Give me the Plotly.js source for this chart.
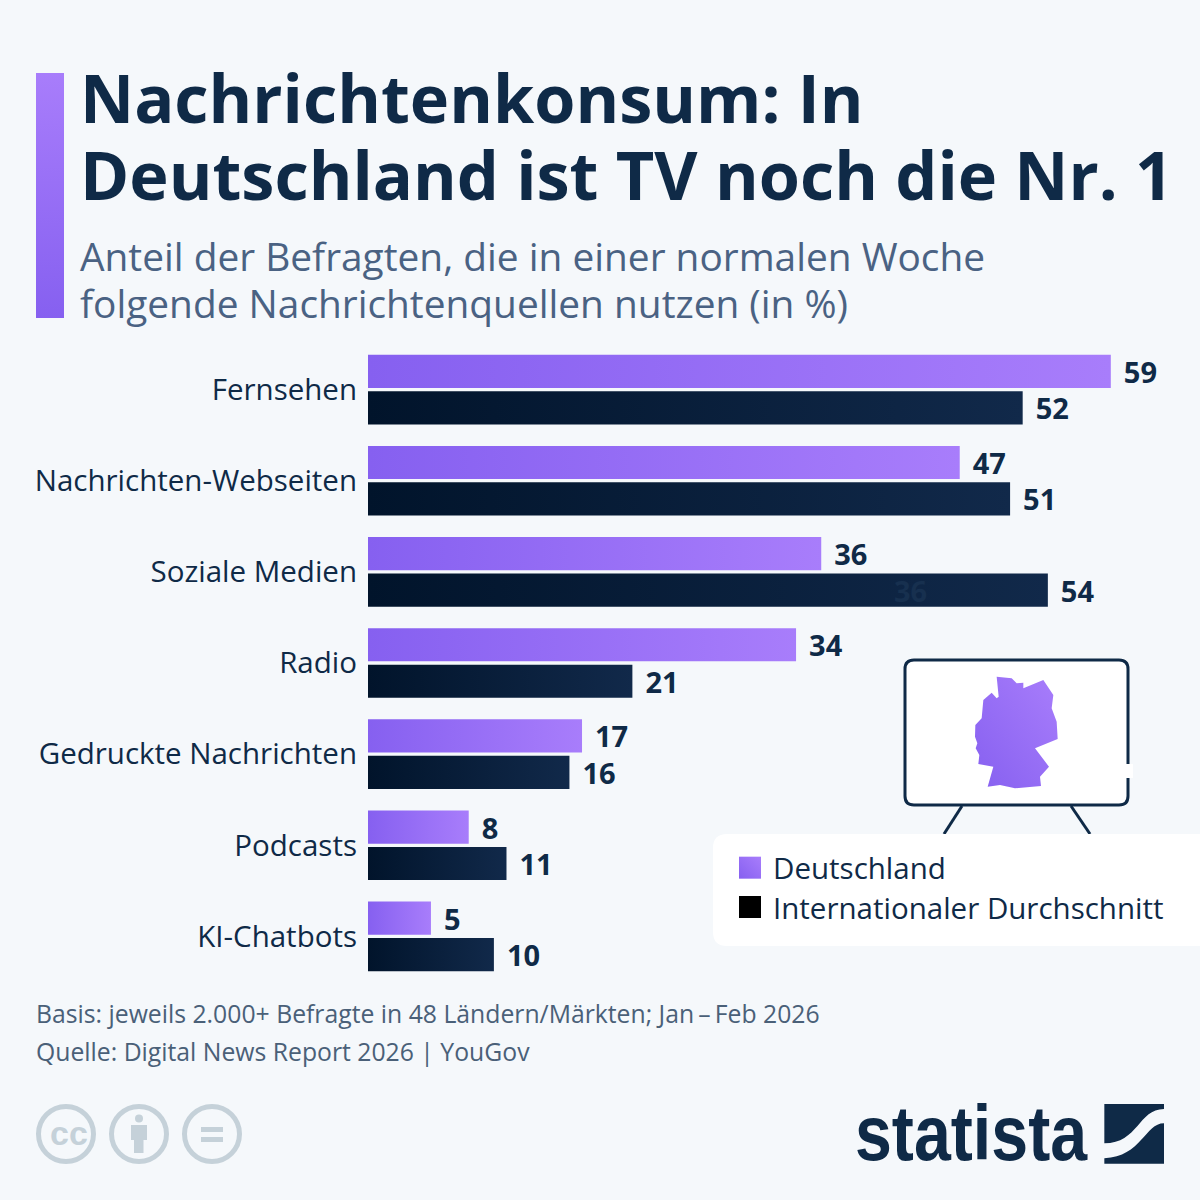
<!DOCTYPE html>
<html><head><meta charset="utf-8">
<script src="https://cdn.plot.ly/plotly-3.0.1.min.js"></script>
<style>html,body{margin:0;padding:0;background:#f5f8fb}</style></head>
<body><div id="chart" style="width:1200px;height:1200px"></div>
<script>
const categories = ["Fernsehen","Nachrichten-Webseiten","Soziale Medien","Radio","Gedruckte Nachrichten","Podcasts","KI-Chatbots"];
const germany = [59,47,36,34,17,8,5];
const international = [52,51,54,21,16,11,10];
const seriesNames = ["Deutschland","Internationaler Durchschnitt"];
const titleText = "Nachrichtenkonsum: In<br>Deutschland ist TV noch die Nr. 1";
const subtitleLine1 = "Anteil der Befragten, die in einer normalen Woche";
const subtitleLine2 = "folgende Nachrichtenquellen nutzen (in %)";
const basisText = "Basis: jeweils 2.000+ Befragte in 48 Ländern/Märkten; Jan\u2009–\u2009Feb 2026";
const sourceText = "Quelle: Digital News Report 2026 | YouGov";

const W = 1200, H = 1200, F = "'Open Sans', 'Noto Sans', sans-serif";
const NAVY = "#0f2a47", PURPLE = "#9a72f7", ICON = "#c5d1d9";
const L = 368, T = 344, PW = 832, PH = 638;
const px = x => (x - L) / PW, py = y => 1 - (y - T) / PH;
function pathShape(pts, fill) {
  const d = "M" + pts.map(p => px(p[0]) + "," + py(p[1])).join("L") + "Z";
  return {type:"path", xref:"paper", yref:"paper", path:d, fillcolor:fill, line:{width:0}};
}
function svgPath(cmd, fill) {
  return {type:"path", xref:"paper", yref:"paper", path:cmd, fillcolor:fill, line:{width:0}};
}
const rect = (x0,y0,x1,y1,fill,line) => ({type:"rect",xref:"paper",yref:"paper",x0:px(x0),x1:px(x1),y0:py(y0),y1:py(y1),fillcolor:fill,line:line||{width:0}});
const circ = (cx,cy,r,fill,line) => ({type:"circle",xref:"paper",yref:"paper",x0:px(cx-r),x1:px(cx+r),y0:py(cy-r),y1:py(cy+r),fillcolor:fill,line:line||{width:0}});
const seg = (x0,y0,x1,y1,c,w) => ({type:"line",xref:"paper",yref:"paper",x0:px(x0),x1:px(x1),y0:py(y0),y1:py(y1),line:{color:c,width:w}});
function rrect(x0,y0,x1,y1,r,fill,line) {
  const P=(x,y)=>px(x)+" "+py(y);
  const d = "M"+P(x0+r,y0)+" L"+P(x1-r,y0)+" Q"+P(x1,y0)+" "+P(x1,y0+r)+" L"+P(x1,y1-r)+" Q"+P(x1,y1)+" "+P(x1-r,y1)+
    " L"+P(x0+r,y1)+" Q"+P(x0,y1)+" "+P(x0,y1-r)+" L"+P(x0,y0+r)+" Q"+P(x0,y0)+" "+P(x0+r,y0)+" Z";
  return {type:"path",xref:"paper",yref:"paper",path:d,fillcolor:fill,line:line||{width:0}};
}
const outline = [[890,110],[935,115],[950,130],[970,128],[970,145],[1030,120],[1060,165],[1055,205],[1070,245],[1073,297],[1005,325],[1047,380],[1020,410],[1023,438],[945,445],[900,435],[863,440],[880,380],[835,372],[838,345],[827,325],[832,310],[825,290],[826,255],[845,235],[850,180],[875,158],[890,175],[896,170]]
  .map(p => [700+p[0]/3, 640+p[1]/3]);
const P = (x,y) => px(x)+" "+py(y);
const lg = (x,y) => P(840+x/3, 1090+y/3);
const shapes = [
  rect(36,73,64,318,"#9a72f8"),
  seg(962,806,944,834,NAVY,3), seg(1071,806,1090,834,NAVY,3),
  rrect(905,660,1128,805,9,"#ffffff",{color:NAVY,width:3}),
  rect(1124,764,1133,778,"#ffffff"),
  pathShape(outline,"#9a72f9"),
  rrect(713,834,1240,946,14,"#ffffff"),
  circ(66,1134,27.5,"rgba(0,0,0,0)",{color:ICON,width:5}),
  circ(139,1134,27.5,"rgba(0,0,0,0)",{color:ICON,width:5}),
  circ(212,1134,27.5,"rgba(0,0,0,0)",{color:ICON,width:5}),
  circ(139,1118.5,4,ICON),
  rect(131,1125,147,1140,ICON), rect(134,1140,143.5,1153,ICON),
  rect(201,1127,223,1132,ICON), rect(201,1137,223,1142,ICON),
  svgPath("M"+lg(793,42)+" L"+lg(972,42)+" L"+lg(972,57)+" C"+lg(895,57)+" "+lg(895,160)+" "+lg(793,160)+" Z",NAVY),
  svgPath("M"+lg(972,100)+" C"+lg(915,100)+" "+lg(905,200)+" "+lg(793,205)+" L"+lg(793,221)+" L"+lg(972,221)+" Z",NAVY)
];
const ann = (x,y,text,size,color,opt) => Object.assign({xref:"paper",yref:"paper",x:px(x),y:py(y),text:text,showarrow:false,xanchor:"left",yanchor:"middle",align:"left",font:{family:F,size:size,color:color}},opt||{});
const annotations = [
  ann(78,255,subtitleLine1,38.85,"#4a6283"),
  ann(78,303,subtitleLine2,38.85,"#4a6283"),
  ann(34,1013,basisText,24.75,"#4a6078"),
  ann(34,1051,sourceText,24.75,"#4a6078"),
  ann(48,1133,"cc",34,ICON,{font:{family:"'Liberation Sans',sans-serif",size:34,color:ICON,weight:700}}),
  ann(853,1133,"statista",78,NAVY,{font:{family:"'Liberation Sans',sans-serif",size:78,color:NAVY,weight:700}}),
  {xref:"x",yref:"y",x:43.1,y:"Soziale Medien",yshift:-19,text:"36",showarrow:false,font:{family:F,size:29,color:"#17304f",weight:700}}
];
const mk = (name,vals,color) => ({type:"bar",orientation:"h",name:name,y:categories,x:vals,text:vals.map(String),
  textposition:"outside",cliponaxis:false,constraintext:"none",
  textfont:{family:F,size:29,color:NAVY,weight:700},marker:{color:color,line:{width:0}},hoverinfo:"x+y"});
const traces = [mk(seriesNames[0],germany,PURPLE),mk(seriesNames[1],international,"#081d36")];
const layout = {
  width:W,height:H,paper_bgcolor:"#f5f8fb",plot_bgcolor:"rgba(0,0,0,0)",
  margin:{l:L,r:W-L-PW,t:T,b:H-T-PH,pad:0},
  barmode:"group",bargap:0.2,bargroupgap:0.09,
  title:{text:titleText,x:80/W,xanchor:"left",xref:"container",yref:"container",y:1-122.5/H,yanchor:"middle",automargin:false,font:{family:F,size:66.6,color:NAVY,weight:700}},
  xaxis:{range:[0,PW/12.59],visible:false,fixedrange:true},
  yaxis:{type:"category",autorange:"reversed",showline:false,showgrid:false,zeroline:false,ticks:"",ticklabelstandoff:10,automargin:false,tickfont:{family:F,size:29.5,color:NAVY},fixedrange:true},
  showlegend:true,
  legend:{x:px(730),xanchor:"left",y:py(842),yanchor:"top",bgcolor:"rgba(0,0,0,0)",borderwidth:0,font:{family:F,size:29.5,color:NAVY},itemwidth:30,traceorder:"normal",itemclick:false,itemdoubleclick:false},
  shapes:shapes,annotations:annotations
};
Plotly.newPlot("chart",traces,layout,{displayModeBar:false}).then(gd => {
  const svg = gd.querySelector(".main-svg");
  const NS = "http://www.w3.org/2000/svg";
  const defs = document.createElementNS(NS,"defs");
  function grad(id,c0,c1,x1,y1,x2,y2){
    const g=document.createElementNS(NS,"linearGradient");g.id=id;
    g.setAttribute("x1",x1);g.setAttribute("y1",y1);g.setAttribute("x2",x2);g.setAttribute("y2",y2);
    [[0,c0],[1,c1]].forEach(s=>{const e=document.createElementNS(NS,"stop");e.setAttribute("offset",s[0]);e.setAttribute("stop-color",s[1]);g.appendChild(e);});
    defs.appendChild(g);
  }
  grad("gP","#8660f0","#a87dfb",0,0.5,1,0.5);
  grad("gN","#01142b","#11294a",0,0.5,1,0.5);
  grad("gV","#a87dfb","#8660f0",0,0,0,1);
  grad("gM","#a87dfb","#8660f0",1,0,0,1);
  svg.insertBefore(defs,svg.firstChild);
  const ids=["gP","gN"];
  gd.querySelectorAll(".barlayer .trace").forEach((t,i)=>{
    t.querySelectorAll(".point path").forEach(p=>p.style.fill="url(#"+ids[i]+")");
    t.querySelectorAll(".point text").forEach(x=>{const tr=x.getAttribute("transform")||"";x.setAttribute("transform","translate(10,0) "+tr);});
  });
  gd.querySelectorAll(".legend .traces").forEach((t,i)=>{
    const p=t.querySelector(".legendpoints path");
    if(p){p.setAttribute("d","M11,11H-11V-11H11Z");p.style.fill=i===0?"url(#gM)":"#000";p.style.stroke="none";}
    const tx=t.querySelector(".legendtext");
    if(tx){tx.setAttribute("x",parseFloat(tx.getAttribute("x"))+3);tx.querySelectorAll("tspan").forEach(s=>{if(s.getAttribute("x"))s.setAttribute("x",parseFloat(s.getAttribute("x"))+3);});}
    if(i===1){const tr=t.getAttribute("transform")||"";t.setAttribute("transform","translate(0,-2) "+tr);}
  });
  gd.querySelectorAll(".shapelayer path").forEach(p=>{
    const f=p.style.fill.replace(/\s/g,"");
    if(f==="rgb(154,114,248)")p.style.fill="url(#gV)";
    if(f==="rgb(154,114,249)")p.style.fill="url(#gM)";
  });
  gd.querySelectorAll(".annotation-text").forEach(x=>{
    if(x.textContent==="statista"){x.style.transformBox="fill-box";x.style.transformOrigin="0 50%";x.style.transform="scaleX(0.85)";}
  });
  const l=gd.querySelectorAll(".gtitle tspan.line");
  if(l.length>1){l[1].removeAttribute("y");l[1].setAttribute("dy","77px");}
});
</script></body></html>
